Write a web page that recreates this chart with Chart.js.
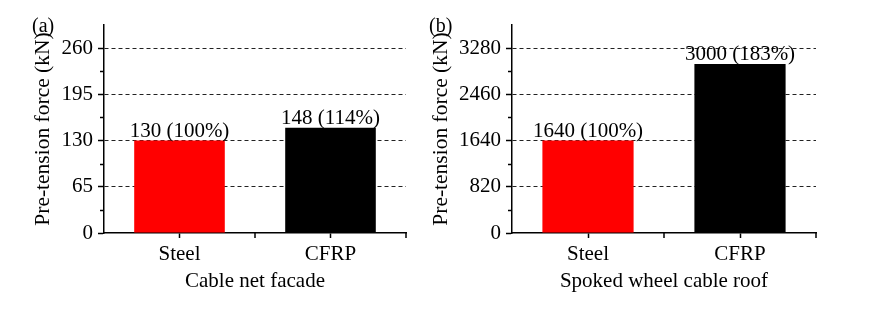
<!DOCTYPE html>
<html>
<head>
<meta charset="utf-8">
<script src="https://cdn.jsdelivr.net/npm/chart.js@4.4.1/dist/chart.umd.min.js"></script>
<style>
  html, body { margin: 0; padding: 0; background: #ffffff; }
  body { width: 888px; height: 318px; position: relative; overflow: hidden; font-family: 'Liberation Serif', 'Times New Roman', serif; }
  .panel { position: absolute; top: 0; height: 318px; }
  .tag { position: absolute; font-size: 20px; line-height: 20px; color: #000; font-family: 'Liberation Serif', serif; }
</style>
</head>
<body>
<div class="panel" style="left:0;width:420px;"><canvas id="chartA" width="420" height="318"></canvas></div>
<div class="panel" style="left:420px;width:468px;"><canvas id="chartB" width="468" height="318"></canvas></div>
<div class="tag" style="left:32px;top:15px;">(a)</div>
<div class="tag" style="left:429px;top:15px;">(b)</div>
<script>
// ---- data ----
const categories = ['Steel', 'CFRP'];
const facadeValues = [130, 148];
const facadeShares = ['100%', '114%'];
const roofValues = [1640, 3000];
const roofShares = ['100%', '183%'];
const facadeTicks = [0, 65, 130, 195, 260];
const roofTicks = [0, 820, 1640, 2460, 3280];
const facadeMax = 292.5;
const roofMax = 3690;
const barColors = ['#ff0000', '#000000'];
const yTitle = 'Pre-tension force (kN)';
const facadeTitle = 'Cable net facade';
const roofTitle = 'Spoked wheel cable roof';

const FONT = "'Liberation Serif', 'Times New Roman', serif";

const extrasPlugin = {
  id: 'extras',
  afterDatasetsDraw(chart, args, opts) {
    const ctx = chart.ctx;
    const meta = chart.getDatasetMeta(0);
    ctx.save();
    ctx.font = '21px ' + FONT;
    ctx.fillStyle = '#000';
    ctx.textAlign = 'center';
    ctx.textBaseline = 'alphabetic';
    meta.data.forEach((bar, i) => {
      ctx.fillText(opts.values[i] + ' (' + opts.shares[i] + ')', bar.x, bar.y - 4);
    });
    ctx.restore();
  },
  afterDraw(chart, args, opts) {
    const ctx = chart.ctx;
    const ys = chart.scales.y, xs = chart.scales.x;
    ctx.save();
    ctx.strokeStyle = '#000';
    ctx.lineWidth = 1.5;
    ctx.setLineDash([]);
    // minor y ticks
    const t = opts.ticks;
    const step = t[1] - t[0];
    for (let i = 0; i < t.length; i++) {
      const v = t[i] + step / 2;
      if (v >= ys.max) continue;
      const py = Math.round(ys.getPixelForValue(v)) + 0.5;
      ctx.beginPath();
      ctx.moveTo(ys.right - 4, py);
      ctx.lineTo(ys.right, py);
      ctx.stroke();
    }
    // boundary x ticks
    const p0 = xs.getPixelForValue(0), p1 = xs.getPixelForValue(1);
    const half = (p1 - p0) / 2;
    [p0 + half, p1 + half].forEach(px => {
      ctx.beginPath();
      ctx.moveTo(px, xs.top);
      ctx.lineTo(px, xs.top + 5);
      ctx.stroke();
    });
    ctx.restore();
  }
};

function makeChart(id, values, shares, ticks, max, xTitle, yWidth, padRight, yTitlePad) {
  return new Chart(document.getElementById(id), {
    type: 'bar',
    data: {
      labels: categories,
      datasets: [{
        data: values,
        backgroundColor: barColors,
        borderWidth: 0,
        categoryPercentage: 1.0,
        barPercentage: 0.6
      }]
    },
    plugins: [extrasPlugin],
    options: {
      responsive: false,
      animation: false,
      devicePixelRatio: 1,
      layout: { padding: { top: 25, right: padRight, left: 0, bottom: 0 } },
      plugins: {
        legend: { display: false },
        tooltip: { enabled: false },
        extras: { values: values, shares: shares, ticks: ticks }
      },
      scales: {
        x: {
          offset: true,
          afterFit(scale) { scale.height = 85; },
          border: { display: true, color: '#000', width: 1.5 },
          grid: { display: true, drawOnChartArea: false, drawTicks: true, tickLength: 5, tickColor: '#000', tickWidth: 1.5, offset: false },
          ticks: { color: '#000', padding: 4, font: { family: FONT, size: 21 } },
          title: { display: true, text: xTitle, color: '#000', font: { family: FONT, size: 21 }, padding: { top: 0, bottom: 24 } }
        },
        y: {
          min: 0,
          max: max,
          afterFit(scale) { scale.width = yWidth; },
          afterBuildTicks(scale) { scale.ticks = ticks.map(v => ({ value: v })); },
          border: { display: true, color: '#000', width: 1.5, dash: [4, 3] },
          grid: {
            drawOnChartArea: true,
            color: c => (c.tick && c.tick.value === 0) ? 'rgba(0,0,0,0)' : '#222',
            lineWidth: 1,
            tickBorderDash: [],
            tickColor: '#000',
            tickWidth: 1.5,
            tickLength: 6
          },
          ticks: { color: '#000', padding: 5, font: { family: FONT, size: 21 }, callback: v => String(v) },
          title: { display: true, text: yTitle, color: '#000', font: { family: FONT, size: 21.5 }, padding: { top: yTitlePad, bottom: 0 } }
        }
      }
    }
  });
}

makeChart('chartA', facadeValues, facadeShares, facadeTicks, facadeMax, facadeTitle, 104, 14, 30);
makeChart('chartB', roofValues, roofShares, roofTicks, roofMax, roofTitle, 92, 72, 8);
</script>
</body>
</html>
